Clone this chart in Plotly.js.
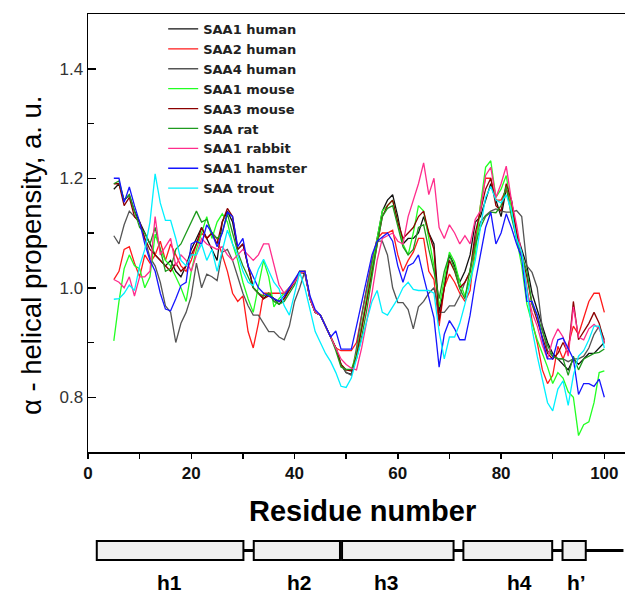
<!DOCTYPE html>
<html><head><meta charset="utf-8">
<script src="https://cdn.plot.ly/plotly-3.0.1.min.js"></script>
<style>html,body{margin:0;padding:0;background:#fff}</style>
</head><body><div id="chart" style="width:627px;height:595px"></div>
<script>
const residues = [5,6,7,8,9,10,11,12,13,14,15,16,17,18,19,20,21,22,23,24,25,26,27,28,29,30,31,32,33,34,35,36,37,38,39,40,41,42,43,44,45,46,47,48,49,50,51,52,53,54,55,56,57,58,59,60,61,62,63,64,65,66,67,68,69,70,71,72,73,74,75,76,77,78,79,80,81,82,83,84,85,86,87,88,89,90,91,92,93,94,95,96,97,98,99,100];

const saa1Human = [1.18,1.19,1.16,1.17,1.14,1.12,1.10,1.08,1.06,1.05,
 1.04,1.05,1.03,1.02,1.04,1.07,1.09,1.11,1.09,1.07,
 1.05,1.12,1.14,1.12,1.07,1.08,1.04,1.00,0.99,0.98,
 0.99,0.98,0.97,0.98,1.00,1.01,1.03,1.025,0.98,0.955,
 0.95,0.93,0.91,0.89,0.86,0.845,0.842,0.88,0.93,0.98,
 1.04,1.09,1.14,1.16,1.17,1.13,1.08,1.09,1.09,1.10,
 1.13,1.10,1.08,0.955,1.00,1.06,1.04,1.01,1.03,1.06,
 1.12,1.13,1.16,1.19,1.16,1.13,1.18,1.16,1.10,1.07,
 1.04,0.99,0.96,0.93,0.90,0.88,0.87,0.86,0.85,0.87,
 0.86,0.87,0.88,0.88,0.89,0.90];

const saa2Human = [1.015,1.03,1.07,1.075,1.045,1.02,1.06,1.045,1.06,1.085,
 1.05,1.08,1.06,1.04,1.03,1.05,1.08,1.10,1.09,1.10,
 1.09,1.06,1.03,0.99,0.975,0.985,0.92,0.89,0.935,0.99,
 0.99,0.99,0.99,0.99,1.00,1.01,1.03,1.03,0.98,0.955,
 0.95,0.93,0.91,0.89,0.885,0.885,0.885,0.90,0.95,1.00,
 1.05,1.09,1.10,1.10,1.105,1.06,1.03,1.05,1.065,1.09,
 1.09,1.03,1.015,0.93,1.00,1.025,1.01,0.99,0.975,0.995,
 1.08,1.15,1.20,1.20,1.16,1.16,1.18,1.15,1.10,1.06,
 1.00,0.94,0.90,0.85,0.825,0.84,0.893,0.87,0.895,0.93,
 0.915,0.945,0.975,0.99,0.99,0.955];

const saa4Human = [1.095,1.08,1.115,1.14,1.13,1.12,1.09,1.055,1.04,1.01,
 0.967,0.955,0.90,0.935,0.955,0.985,1.045,1.00,1.025,1.02,
 1.013,1.065,1.07,1.05,1.02,0.99,0.967,0.95,0.95,0.935,
 0.92,0.92,0.91,0.905,0.93,0.975,1.00,1.03,0.98,0.955,
 0.95,0.93,0.91,0.89,0.86,0.845,0.84,0.89,0.95,1.00,
 1.05,1.085,1.085,1.06,1.00,0.973,0.973,0.96,0.925,0.965,
 0.975,0.99,1.00,0.955,0.955,0.967,0.967,0.985,1.01,1.028,
 1.089,1.12,1.132,1.14,1.144,1.14,1.138,1.138,1.141,1.13,
 1.04,1.028,1.00,0.925,0.885,0.875,0.87,0.87,0.865,0.87,
 0.87,0.875,0.89,0.915,0.93,0.905];

const saa1Mouse = [0.903,0.975,1.035,1.06,1.04,1.035,1.00,1.02,1.098,1.07,
 1.05,1.04,1.02,1.00,0.975,1.03,1.07,1.10,1.13,1.09,
 1.12,1.135,1.12,1.08,1.05,1.01,0.98,0.955,1.00,1.05,
 1.02,0.965,0.98,0.99,1.00,1.01,1.025,1.03,0.98,0.955,
 0.95,0.93,0.91,0.89,0.86,0.85,0.85,0.88,0.93,0.985,
 1.04,1.09,1.14,1.15,1.16,1.12,1.08,1.06,1.10,1.15,
 1.14,1.09,1.04,0.965,1.015,1.065,1.047,1.01,0.985,1.016,
 1.06,1.15,1.22,1.232,1.165,1.18,1.205,1.145,1.09,1.04,
 0.97,0.935,0.905,0.88,0.855,0.825,0.845,0.835,0.81,0.80,
 0.73,0.75,0.755,0.79,0.845,0.848];

const saa3Mouse = [1.19,1.19,1.15,1.165,1.13,1.12,1.09,1.07,1.06,1.05,
 1.04,1.03,1.045,1.03,1.04,1.06,1.08,1.11,1.09,1.10,
 1.08,1.12,1.145,1.13,1.07,1.08,1.04,1.00,0.99,0.98,
 0.985,0.98,0.975,0.98,0.995,1.01,1.03,1.03,0.98,0.955,
 0.95,0.93,0.91,0.89,0.86,0.85,0.848,0.875,0.925,0.975,
 1.03,1.08,1.13,1.15,1.16,1.12,1.09,1.10,1.11,1.13,
 1.14,1.10,1.07,0.94,1.00,1.05,1.03,1.00,1.01,1.03,
 1.10,1.14,1.18,1.20,1.15,1.14,1.19,1.16,1.10,1.06,
 1.02,0.97,0.94,0.91,0.88,0.87,0.88,0.90,0.88,0.975,
 0.905,0.92,0.935,0.955,0.935,0.90];

const saaRat = [1.19,1.195,1.16,1.17,1.14,1.11,1.10,1.08,1.11,1.07,
 1.03,1.035,1.07,1.08,1.10,1.12,1.14,1.12,1.125,1.10,
 1.09,1.10,1.135,1.10,1.065,1.04,1.02,1.00,0.99,0.985,
 0.99,0.975,0.97,0.975,0.99,1.005,1.03,1.03,0.98,0.955,
 0.95,0.93,0.91,0.885,0.855,0.851,0.851,0.87,0.91,0.96,
 1.02,1.08,1.13,1.145,1.15,1.11,1.075,1.06,1.07,1.11,
 1.115,1.07,1.03,0.98,1.03,1.06,1.034,0.998,0.98,1.034,
 1.077,1.11,1.13,1.138,1.137,1.15,1.185,1.13,1.09,1.06,
 1.03,0.97,0.95,0.92,0.895,0.875,0.87,0.87,0.84,0.875,
 0.85,0.87,0.875,0.88,0.882,0.888];

const saa1Rabbit = [1.015,1.01,1.00,1.02,0.985,1.02,1.02,1.03,1.13,1.06,
 1.075,1.09,1.04,1.06,1.05,1.03,1.06,1.09,1.08,1.075,
 1.07,1.075,1.06,1.05,1.06,1.07,1.06,1.05,1.06,1.08,
 1.08,1.04,1.005,0.99,1.00,1.01,1.025,1.03,0.98,0.955,
 0.95,0.93,0.91,0.89,0.87,0.86,0.853,0.85,0.89,0.94,
 0.99,1.05,1.09,1.095,1.10,1.085,1.08,1.13,1.16,1.19,
 1.228,1.17,1.20,1.11,1.09,1.115,1.10,1.08,1.095,1.08,
 1.125,1.14,1.205,1.22,1.165,1.19,1.222,1.16,1.115,1.06,
 0.995,0.955,0.93,0.895,0.87,0.905,0.925,0.91,0.875,0.965,
 0.91,0.905,0.925,0.933,0.925,0.90];

const saa1Hamster = [1.20,1.20,1.156,1.184,1.15,1.12,1.08,1.05,1.03,0.99,
 0.961,0.958,0.98,1.004,1.01,1.08,1.085,1.08,1.115,1.10,
 1.075,1.10,1.138,1.13,1.075,1.09,1.04,1.02,1.00,0.99,
 0.985,0.98,0.975,0.985,1.00,1.015,1.03,1.03,0.985,0.96,
 0.95,0.93,0.91,0.921,0.888,0.888,0.888,0.93,0.975,1.02,
 1.06,1.085,1.092,1.10,1.085,1.04,1.01,1.04,1.045,1.06,
 1.02,0.98,0.945,0.855,0.915,0.94,0.925,0.905,0.905,0.95,
 1.01,1.06,1.11,1.138,1.08,1.10,1.135,1.11,1.08,1.055,
 0.975,0.975,0.95,0.905,0.87,0.87,0.905,0.908,0.89,0.87,
 0.805,0.825,0.825,0.82,0.833,0.80];

const saaTrout = [0.979,0.98,0.99,1.005,0.995,1.04,1.07,1.12,1.208,1.155,
 1.123,1.123,1.09,1.05,1.04,1.06,1.06,1.08,1.05,1.07,
 1.03,1.07,1.105,1.08,1.06,1.03,1.01,1.004,1.034,1.052,
 1.03,1.01,0.998,0.967,0.95,0.99,1.028,1.00,0.96,0.92,
 0.90,0.88,0.865,0.845,0.82,0.818,0.835,0.87,0.91,0.945,
 0.975,0.995,0.955,0.95,0.965,0.98,1.00,1.01,0.997,0.995,
 0.995,0.995,0.99,0.92,0.87,0.91,0.91,0.935,0.97,1.01,
 1.05,1.11,1.165,1.185,1.16,1.155,1.17,1.14,1.09,1.065,
 0.99,0.925,0.875,0.835,0.79,0.775,0.815,0.83,0.785,0.84,
 0.875,0.885,0.905,0.93,0.93,0.89];

const seriesNames = ['SAA1 human','SAA2 human','SAA4 human','SAA1 mouse','SAA3 mouse','SAA rat','SAA1 rabbit','SAA1 hamster','SAA trout'];
const seriesValues = [saa1Human, saa2Human, saa4Human, saa1Mouse, saa3Mouse, saaRat, saa1Rabbit, saa1Hamster, saaTrout];
const seriesColors = ['#111111','#ff1a1a','#555555','#22ff22','#8b0000','#1e9a1e','#ff2d8c','#1515ff','#00f0ff'];

// secondary structure diagram (residue numbers)
const helixLabels = ['h1','h2','h3','h4','h\u2019'];
const helixStart = [1.7, 32.1, 49.2, 72.7, 91.9];
const helixEnd = [30.1, 48.8, 70.8, 89.9, 96.4];
const helixLabelPos = [15.8, 41, 57.8, 83.5, 94.6];
const linkerStart = [30.1, 70.8, 89.9, 96.4];
const linkerEnd = [32.1, 72.7, 91.9, 103.7];

const traces = seriesNames.map((n, i) => ({
  type: 'scatter', mode: 'lines', name: n,
  x: residues, y: seriesValues[i],
  line: {color: seriesColors[i], width: 1.3}
}));

const boxTop = -0.2032, boxBot = -0.2466, boxMid = -0.2249;
const shapes = [];
linkerStart.forEach((s, i) => shapes.push({type: 'line', xref: 'x', yref: 'paper', x0: s, x1: linkerEnd[i], y0: boxMid, y1: boxMid, line: {color: '#000', width: 3}}));
helixStart.forEach((s, i) => shapes.push({type: 'rect', xref: 'x', yref: 'paper', x0: s, x1: helixEnd[i], y0: boxBot, y1: boxTop, fillcolor: '#f0f0f0', line: {color: '#000', width: 2}}));

const annotations = helixLabels.map((t, i) => ({
  xref: 'x', yref: 'paper', x: helixLabelPos[i], y: -0.267, yanchor: 'top', xanchor: 'center',
  text: t, showarrow: false, font: {size: 21, weight: 'bold', color: '#000'}
}));
annotations.push({
  xref: 'paper', yref: 'paper', x: 0.512, y: -0.1347, xanchor: 'center', yanchor: 'middle',
  text: 'Residue number', showarrow: false, font: {size: 29, weight: 'bold', color: '#000'}
});
annotations.push({
  xref: 'paper', yref: 'paper', x: -0.104, y: 0.45, xanchor: 'center', yanchor: 'middle', textangle: -90,
  text: '\u03b1 - helical propensity, a. u.', showarrow: false, font: {size: 27.5, color: '#000'}
});

const layout = {
  width: 627, height: 595,
  margin: {l: 88, r: 2, t: 14, b: 143},
  paper_bgcolor: '#ffffff', plot_bgcolor: '#ffffff',
  font: {family: 'Liberation Sans, Arial, sans-serif', color: '#000'},
  showlegend: true,
  legend: {x: 0.14, y: 1.0, xanchor: 'left', yanchor: 'top', bgcolor: 'rgba(0,0,0,0)',
           font: {family: 'DejaVu Sans, Liberation Sans, sans-serif', size: 13, weight: 'bold', color: '#222'}, tracegroupgap: 0},
  xaxis: {range: [0, 104], showline: true, linecolor: '#000', linewidth: 1.5, mirror: true,
          ticks: 'outside', ticklen: 5, tickwidth: 1.5, tickcolor: '#000', dtick: 20, tick0: 0,
          tickfont: {size: 17, weight: 'bold', color: '#111'}, showgrid: false, zeroline: false,
          minor: {dtick: 10, ticks: 'outside', ticklen: 5, tickwidth: 1.5, tickcolor: '#000', showgrid: false}},
  yaxis: {range: [0.7, 1.5], showline: true, linecolor: '#000', linewidth: 1.5,
          ticks: 'inside', ticklen: 8, tickwidth: 1.5, tickcolor: '#000', dtick: 0.2, tick0: 0, tickformat: '.1f',
          tickfont: {size: 17, color: '#333'}, showgrid: false, zeroline: false,
          minor: {dtick: 0.1, ticks: 'inside', ticklen: 6, tickwidth: 1.5, tickcolor: '#000', showgrid: false}},
  shapes: shapes,
  annotations: annotations
};

Plotly.newPlot('chart', traces, layout, {displayModeBar: false, staticPlot: true});
</script></body></html>
